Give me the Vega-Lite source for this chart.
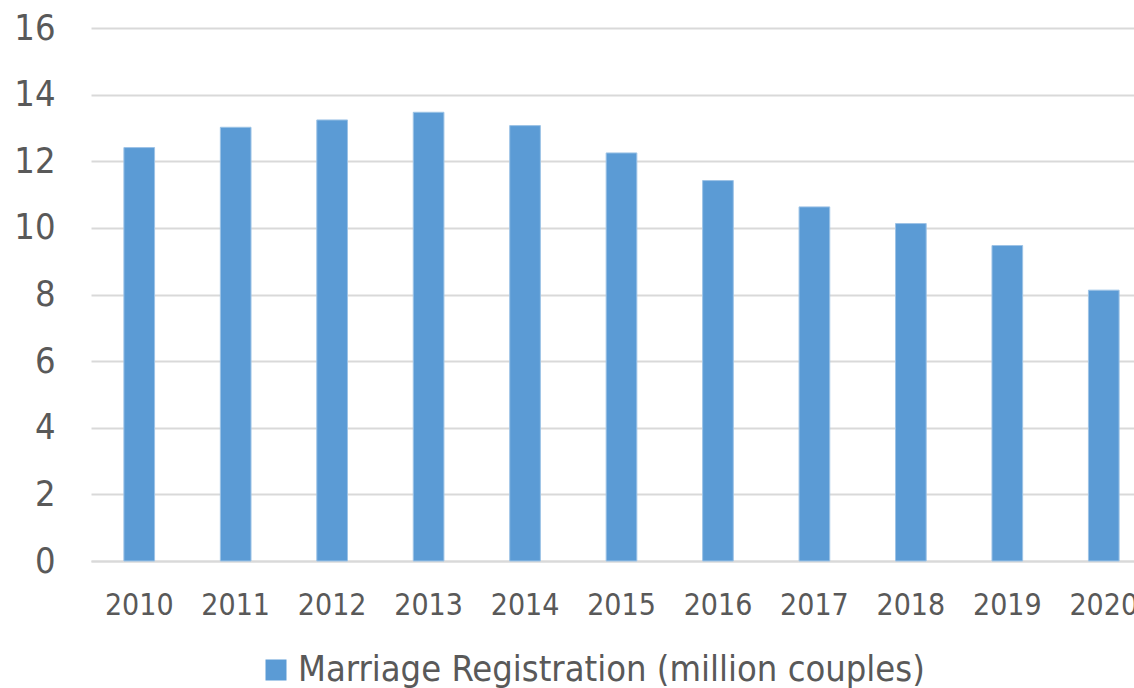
{
  "$schema": "https://vega.github.io/schema/vega-lite/v6.json",
  "width": 1043,
  "height": 533,
  "autosize": {"type": "none"},
  "padding": {"left": 91, "top": 28, "right": 0, "bottom": 127},
  "background": "white",
  "data": {
    "values": [
      {"year": "2010", "value": 12.41, "series": "Marriage Registration (million couples)"},
      {"year": "2011", "value": 13.02, "series": "Marriage Registration (million couples)"},
      {"year": "2012", "value": 13.24, "series": "Marriage Registration (million couples)"},
      {"year": "2013", "value": 13.47, "series": "Marriage Registration (million couples)"},
      {"year": "2014", "value": 13.07, "series": "Marriage Registration (million couples)"},
      {"year": "2015", "value": 12.25, "series": "Marriage Registration (million couples)"},
      {"year": "2016", "value": 11.42, "series": "Marriage Registration (million couples)"},
      {"year": "2017", "value": 10.63, "series": "Marriage Registration (million couples)"},
      {"year": "2018", "value": 10.13, "series": "Marriage Registration (million couples)"},
      {"year": "2019", "value": 9.47, "series": "Marriage Registration (million couples)"},
      {"year": "2020", "value": 8.13, "series": "Marriage Registration (million couples)"}
    ]
  },
  "mark": {"type": "bar", "stroke": "#9DC3E6", "strokeWidth": 1},
  "encoding": {
    "x": {
      "field": "year",
      "type": "nominal",
      "sort": null,
      "scale": {"range": [0, 1061], "paddingInner": 0.682, "paddingOuter": 0.341},
      "axis": {
        "title": null,
        "labelAngle": 0,
        "ticks": false,
        "tickSize": 0,
        "labelPadding": 29,
        "labelBaseline": "top",
        "labelFont": "DejaVu Sans Condensed",
        "labelFontSize": 30,
        "labelColor": "#595959",
        "domainColor": "#D9D9D9",
        "domainWidth": 2,
        "grid": false
      }
    },
    "y": {
      "field": "value",
      "type": "quantitative",
      "scale": {"domain": [0, 16], "nice": false},
      "axis": {
        "title": null,
        "values": [0, 2, 4, 6, 8, 10, 12, 14, 16],
        "ticks": false,
        "tickSize": 0,
        "domain": false,
        "labelPadding": 36,
        "labelFont": "DejaVu Sans Condensed",
        "labelFontSize": 36,
        "labelColor": "#595959",
        "gridColor": "#D9D9D9",
        "gridWidth": 2
      }
    },
    "color": {
      "field": "series",
      "type": "nominal",
      "scale": {"range": ["#5B9BD5"]},
      "legend": {
        "title": null,
        "orient": "none",
        "legendX": 167,
        "legendY": 624,
        "symbolType": "square",
        "symbolSize": 441,
        "symbolStrokeWidth": 0,
        "labelFont": "DejaVu Sans Condensed",
        "labelFontSize": 36,
        "labelColor": "#595959",
        "labelOffset": 4,
        "labelLimit": 1000,
        "padding": 0
      }
    }
  },
  "config": {
    "view": {"stroke": null},
    "axis": {"labelFont": "DejaVu Sans Condensed"}
  }
}
